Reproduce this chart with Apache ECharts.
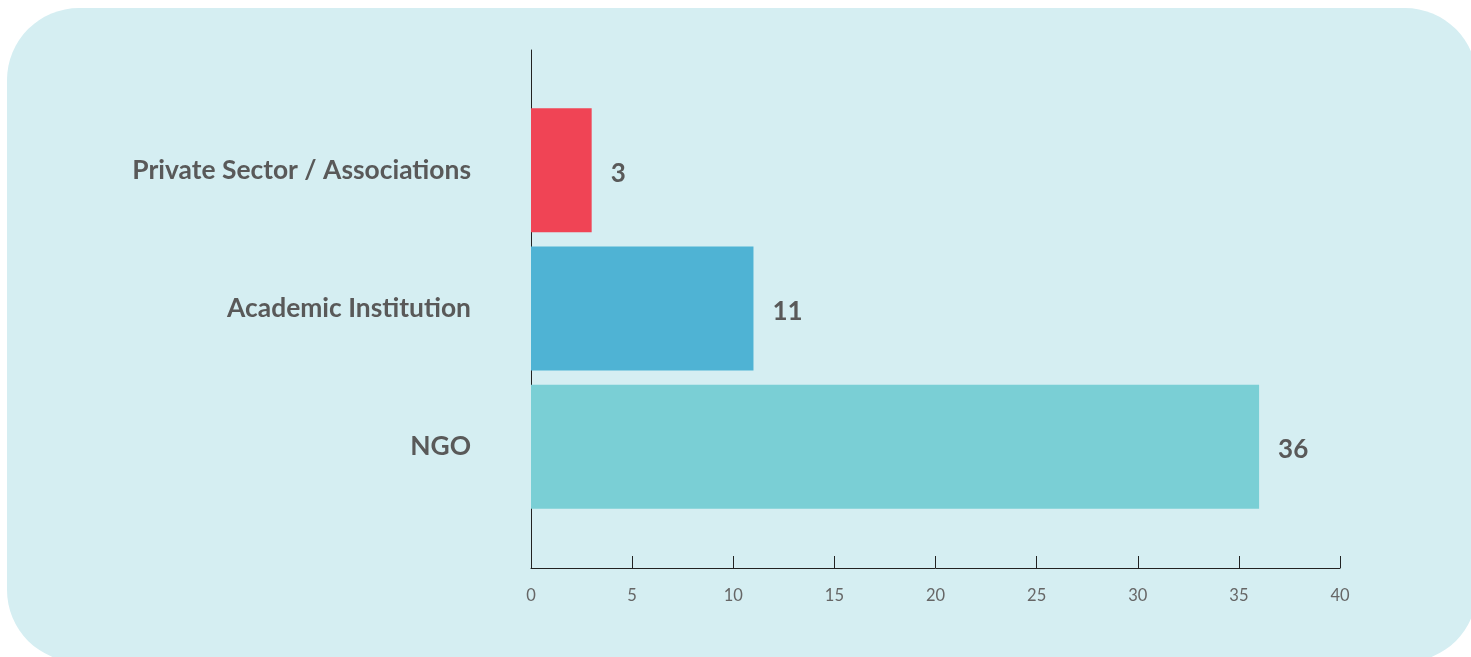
<!DOCTYPE html>
<html>
<head>
<meta charset="utf-8">
<script src="https://cdn.jsdelivr.net/npm/echarts@6/dist/echarts.min.js"></script>
<style>
  html, body { margin: 0; padding: 0; background: #ffffff; width: 1471px; height: 657px; overflow: hidden; }
  #bg { position: absolute; left: 7px; top: 8px; width: 1470px; height: 654px; border-radius: 72px; background: #d5eef2; }
  #chart { position: absolute; left: 0; top: 0; width: 1471px; height: 657px; }
</style>
</head>
<body>
<div id="bg"></div>
<div id="chart"></div>
<script>
const categories = ["Private Sector / Associations", "Academic Institution", "NGO"];
const values = [3, 11, 36];
const barColors = ["#f04455", "#4fb3d4", "#7acfd5"];
const xTicks = { min: 0, max: 40, interval: 5 };

const chart = echarts.init(document.getElementById('chart'), null, { renderer: 'canvas' });
const textColor = '#595959';
const fontFamily = 'Lato, "Noto Sans", sans-serif';

chart.setOption({
  backgroundColor: 'transparent',
  animation: false,
  grid: [
    { left: 531, right: 131, top: 50, bottom: 89 },
    { left: 531, right: 131, top: 101, bottom: 141 }
  ],
  xAxis: [
    {
      gridIndex: 0, type: 'value', min: xTicks.min, max: xTicks.max, interval: xTicks.interval,
      axisLine: { show: true, lineStyle: { color: '#222', width: 1 } },
      axisTick: { show: true, inside: true, length: 12, lineStyle: { color: '#222', width: 1 } },
      axisLabel: { color: '#666', fontSize: 16.5, fontFamily: fontFamily, margin: 19 },
      splitLine: { show: false }
    },
    {
      gridIndex: 1, type: 'value', min: xTicks.min, max: xTicks.max, interval: xTicks.interval, show: false
    }
  ],
  yAxis: [
    {
      gridIndex: 0, type: 'value', min: 0, max: 1,
      axisLine: { show: true, lineStyle: { color: '#222', width: 1 } },
      axisTick: { show: false }, axisLabel: { show: false }, splitLine: { show: false }
    },
    {
      gridIndex: 1, type: 'category', data: categories, inverse: true,
      axisLine: { show: false }, axisTick: { show: false }, splitLine: { show: false },
      axisLabel: { color: textColor, fontSize: 26.4, fontWeight: 'bold', fontFamily: fontFamily, margin: 60,
                   padding: [7, 0, 0, 0] }
    }
  ],
  series: [
    {
      type: 'bar', xAxisIndex: 1, yAxisIndex: 1,
      barWidth: 124,
      data: values.map((v, i) => ({ value: v, itemStyle: { color: barColors[i] } })),
      label: {
        show: true, position: 'right', distance: 19, offset: [0, 3],
        color: textColor, fontSize: 26, fontWeight: 'bold', fontFamily: fontFamily
      }
    }
  ]
});
</script>
</body>
</html>
